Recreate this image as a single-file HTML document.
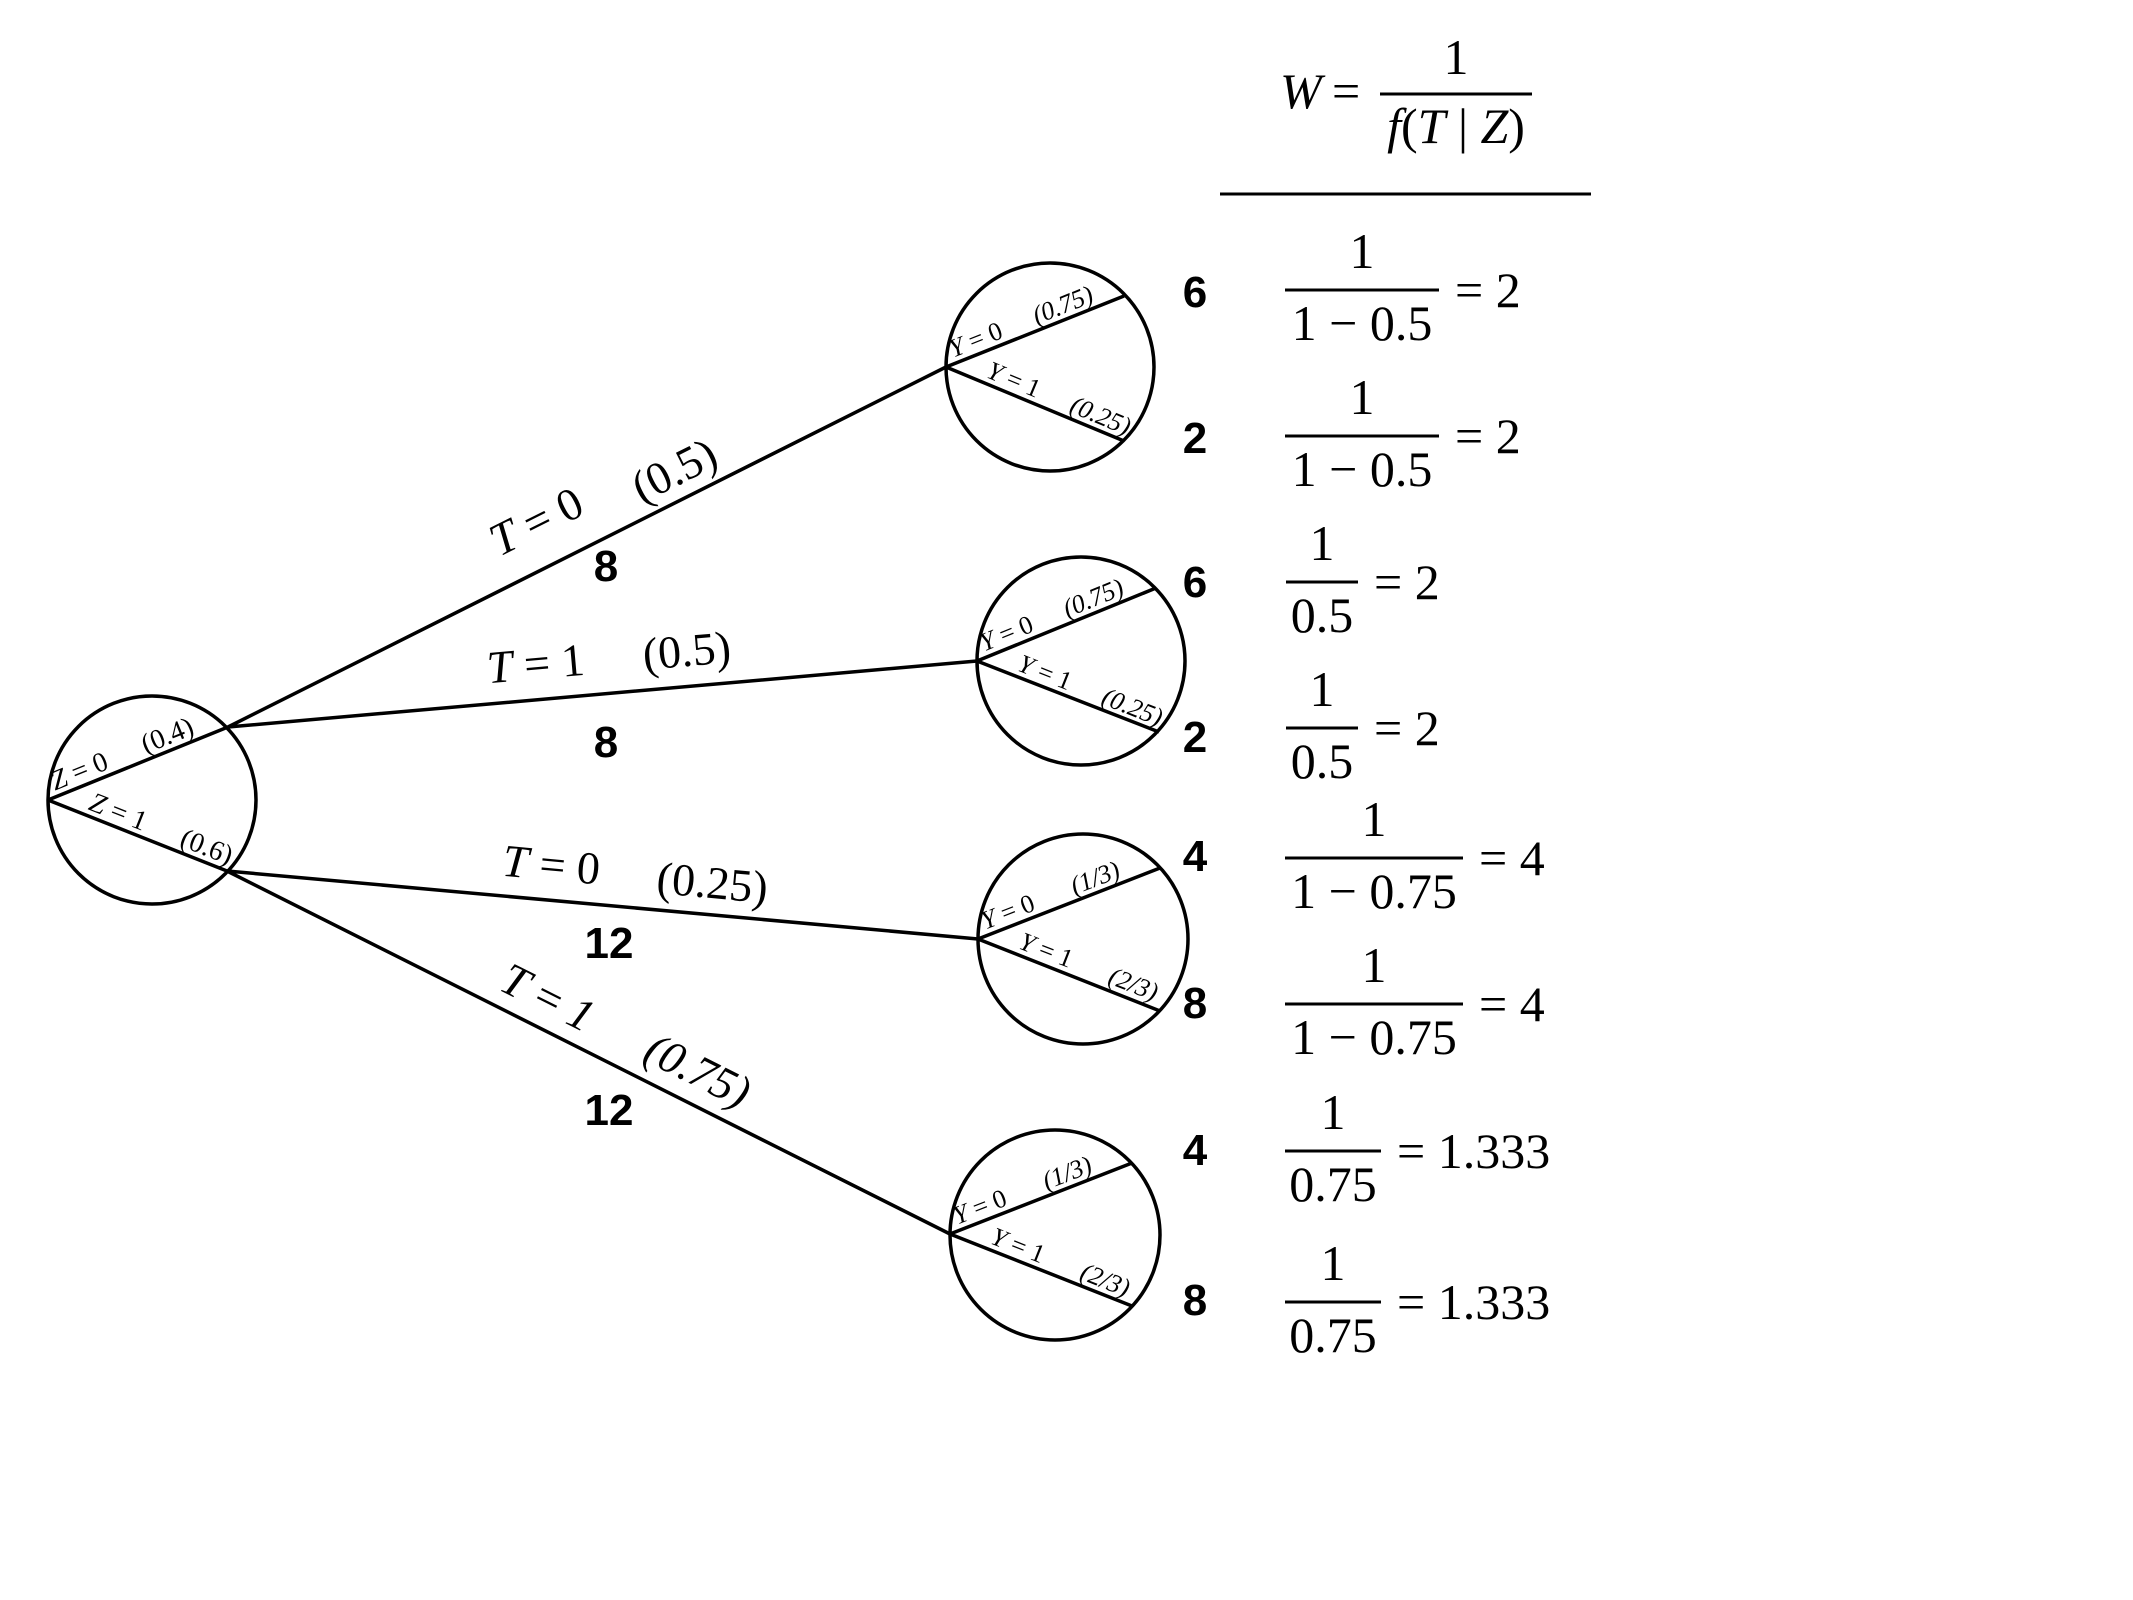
<!DOCTYPE html>
<html><head><meta charset="utf-8"><style>
html,body{margin:0;padding:0;background:#fff;}
svg{display:block;}
.t{font-family:"Liberation Serif",serif;fill:#000;}
.b{font-family:"Liberation Sans",sans-serif;font-weight:bold;fill:#000;font-size:44px;}
</style></head><body>
<svg width="2133" height="1600" viewBox="0 0 2133 1600" xmlns="http://www.w3.org/2000/svg">
<g stroke="#000" stroke-width="3.5" fill="none">
<circle cx="152" cy="800" r="104"/>
<circle cx="1050" cy="367" r="104"/>
<circle cx="1081" cy="661" r="104"/>
<circle cx="1083" cy="939" r="105"/>
<circle cx="1055" cy="1235" r="105"/>
<path d="M48 800 L228 727 M48 800 L227 871"/>
<path d="M946 367 L1124 296 M946 367 L1124 441"/>
<path d="M977 661 L1156 588 M977 661 L1159 732"/>
<path d="M978 939 L1160 868 M978 939 L1160 1011"/>
<path d="M950 1234 L1132 1163 M950 1234 L1132 1306"/>
<path d="M228 727 L946 367 M228 727 L977 661 M227 871 L978 939 M227 871 L950 1234"/>
<path d="M1220 194 L1591 194" stroke-width="3"/>
<path d="M1380 94 L1532 94 M1285 290 L1439 290 M1285 436 L1439 436 M1286 582 L1358 582 M1286 728 L1358 728 M1285 858 L1463 858 M1285 1004 L1463 1004 M1285 1151 L1381 1151 M1285 1302 L1381 1302" stroke-width="3"/>
</g>

<g class="t" font-size="28">
<text transform="translate(48,800) rotate(-22.1)" y="-6"><tspan x="10" font-style="italic">Z</tspan><tspan> = 0</tspan><tspan x="108">(0.4)</tspan></text>
<text transform="translate(48,800) rotate(21.6)" y="-6"><tspan x="40" font-style="italic">Z</tspan><tspan> = 1</tspan><tspan x="138">(0.6)</tspan></text>
</g>
<g class="t" font-size="26" font-style="italic">
<text transform="translate(946,367) rotate(-21.7)" y="-6"><tspan x="10">Y</tspan><tspan font-style="normal"> = 0</tspan><tspan x="100">(0.75)</tspan></text>
<text transform="translate(946,367) rotate(22.6)" y="-6"><tspan x="40">Y</tspan><tspan font-style="normal"> = 1</tspan><tspan x="130">(0.25)</tspan></text>
<text transform="translate(977,661) rotate(-22.2)" y="-6"><tspan x="10">Y</tspan><tspan font-style="normal"> = 0</tspan><tspan x="100">(0.75)</tspan></text>
<text transform="translate(977,661) rotate(21.6)" y="-6"><tspan x="40">Y</tspan><tspan font-style="normal"> = 1</tspan><tspan x="130">(0.25)</tspan></text>
<text transform="translate(978,939) rotate(-21.3)" y="-6"><tspan x="10">Y</tspan><tspan font-style="normal"> = 0</tspan><tspan x="106">(1/3)</tspan></text>
<text transform="translate(978,939) rotate(21.3)" y="-6"><tspan x="40">Y</tspan><tspan font-style="normal"> = 1</tspan><tspan x="136">(2/3)</tspan></text>
<text transform="translate(950,1234) rotate(-21.3)" y="-6"><tspan x="10">Y</tspan><tspan font-style="normal"> = 0</tspan><tspan x="106">(1/3)</tspan></text>
<text transform="translate(950,1234) rotate(21.6)" y="-6"><tspan x="40">Y</tspan><tspan font-style="normal"> = 1</tspan><tspan x="136">(2/3)</tspan></text>
</g>

<g class="t" font-size="46" text-anchor="middle">
<text transform="translate(543,535) rotate(-26.6)"><tspan font-style="italic">T</tspan> = 0</text>
<text transform="translate(681,484) rotate(-26.6)">(0.5)</text>
<text transform="translate(537,679) rotate(-5)"><tspan font-style="italic">T</tspan> = 1</text>
<text transform="translate(688,666) rotate(-5)">(0.5)</text>
<text transform="translate(550,880) rotate(5.2)"><tspan font-style="italic">T</tspan> = 0</text>
<text transform="translate(711,898) rotate(5.2)">(0.25)</text>
<text transform="translate(541,1011) rotate(26.6)"><tspan font-style="italic">T</tspan> = <tspan font-style="italic">1</tspan></text>
<text transform="translate(691,1084) rotate(26.6)" font-style="italic">(0.75)</text>
</g>
<g class="b" text-anchor="middle">
<text x="606" y="581">8</text>
<text x="606" y="757">8</text>
<text x="609" y="958">12</text>
<text x="609" y="1125">12</text>
</g>

<g class="t" font-size="50">
<text x="1280" y="108" font-style="italic">W</text>
<text x="1332" y="108">=</text>
<text x="1456" y="74" text-anchor="middle">1</text>
<text x="1456" y="143" text-anchor="middle"><tspan font-style="italic">f</tspan>(<tspan font-style="italic">T</tspan> | <tspan font-style="italic">Z</tspan>)</text>
</g>

<g class="b" text-anchor="middle">
<text x="1195" y="307">6</text>
<text x="1195" y="453">2</text>
<text x="1195" y="597">6</text>
<text x="1195" y="752">2</text>
<text x="1195" y="871">4</text>
<text x="1195" y="1018">8</text>
<text x="1195" y="1165">4</text>
<text x="1195" y="1315">8</text>
</g>

<g class="t" font-size="50">
<text x="1362" y="268" text-anchor="middle">1</text>
<text x="1362" y="340" text-anchor="middle">1 − 0.5</text>
<text x="1455" y="307">= 2</text>
<text x="1362" y="414" text-anchor="middle">1</text>
<text x="1362" y="486" text-anchor="middle">1 − 0.5</text>
<text x="1455" y="453">= 2</text>
<text x="1322" y="560" text-anchor="middle">1</text>
<text x="1322" y="632" text-anchor="middle">0.5</text>
<text x="1374" y="599">= 2</text>
<text x="1322" y="706" text-anchor="middle">1</text>
<text x="1322" y="778" text-anchor="middle">0.5</text>
<text x="1374" y="745">= 2</text>
<text x="1374" y="836" text-anchor="middle">1</text>
<text x="1374" y="908" text-anchor="middle">1 − 0.75</text>
<text x="1479" y="875">= 4</text>
<text x="1374" y="982" text-anchor="middle">1</text>
<text x="1374" y="1054" text-anchor="middle">1 − 0.75</text>
<text x="1479" y="1021">= 4</text>
<text x="1333" y="1129" text-anchor="middle">1</text>
<text x="1333" y="1201" text-anchor="middle">0.75</text>
<text x="1397" y="1168">= 1.333</text>
<text x="1333" y="1280" text-anchor="middle">1</text>
<text x="1333" y="1352" text-anchor="middle">0.75</text>
<text x="1397" y="1319">= 1.333</text>
</g>
</svg>
</body></html>
